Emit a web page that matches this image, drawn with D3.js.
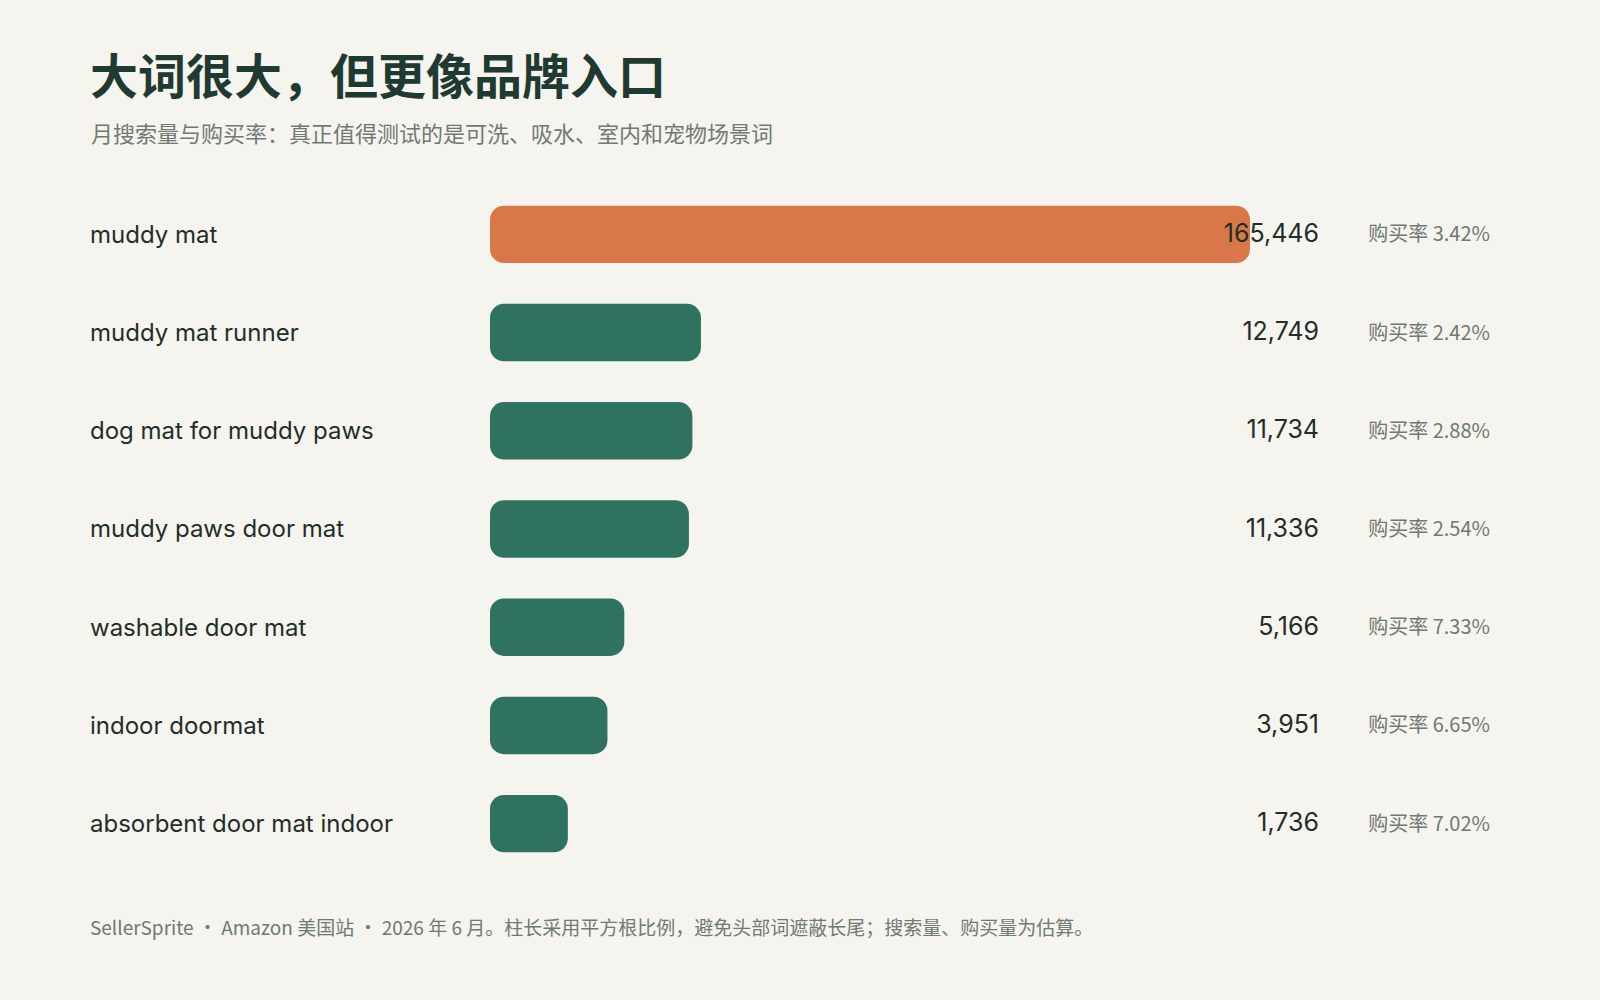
<!DOCTYPE html>
<html><head><meta charset="utf-8">
<script src="https://cdn.jsdelivr.net/npm/d3@7/dist/d3.min.js"></script>
<style>body{margin:0;background:#f5f4ef;}svg{display:block;font-family:"Inter","Noto Sans CJK SC",sans-serif;}</style>
</head><body><svg id="c" width="1600" height="1000"></svg>
<script>
const categories=["muddy mat","muddy mat runner","dog mat for muddy paws","muddy paws door mat","washable door mat","indoor doormat","absorbent door mat indoor"];
const searchVolume=[165446,12749,11734,11336,5166,3951,1736];
const buyRate=["3.42%","2.42%","2.88%","2.54%","7.33%","6.65%","7.02%"];
const svg=d3.select("#c");
const cjk='"Noto Sans CJK SC",sans-serif';
svg.append("rect").attr("width",1600).attr("height",1000).attr("fill","#f5f4ef");
svg.append("text").attr("x",90).attr("y",94).attr("font-size",48).attr("font-weight",700).attr("fill","#1f3a30").style("font-family",cjk).text("大词很大，但更像品牌入口");
svg.append("text").attr("x",91).attr("y",142).attr("font-size",22).attr("fill","#6f7a73").style("font-family",cjk).text("月搜索量与购买率：真正值得测试的是可洗、吸水、室内和宠物场景词");
const x=d3.scaleSqrt().domain([0,d3.max(searchVolume)]).range([0,760]);
const y=d3.scaleBand().domain(categories).range([186,186+98*7]).paddingInner(0.415).paddingOuter(0.2);
const g=svg.append("g");
categories.forEach((c,i)=>{
  const yc=y(c)+y.bandwidth()/2;
  g.append("text").attr("x",90).attr("y",yc).attr("dy","0.35em").attr("font-size",24).attr("fill","#1f2e28").text(c);
  g.append("rect").attr("x",490).attr("y",y(c)).attr("width",x(searchVolume[i])).attr("height",y.bandwidth()).attr("rx",14).attr("fill",i===0?"#d87849":"#2f7260");
  g.append("text").attr("x",1319).attr("y",yc).attr("dy","0.3em").attr("text-anchor","end").attr("font-size",25).attr("fill","#1f2e28").text(d3.format(",")(searchVolume[i]));
  g.append("text").attr("x",1490).attr("y",yc).attr("dy","0.35em").attr("text-anchor","end").attr("font-size",20).attr("fill","#6f7a73").style("font-family",cjk).text("购买率 "+buyRate[i]);
});
svg.append("text").attr("x",90).attr("y",935).attr("font-size",19).attr("fill","#6f7a73").style("font-family",cjk).text("SellerSprite · Amazon 美国站 · 2026 年 6 月。柱长采用平方根比例，避免头部词遮蔽长尾；搜索量、购买量为估算。");
</script></body></html>
